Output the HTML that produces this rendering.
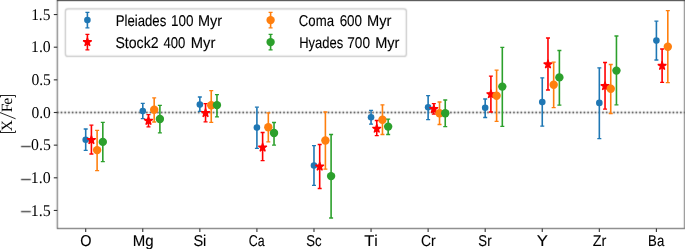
<!DOCTYPE html>
<html><head><meta charset="utf-8"><style>
html,body{margin:0;padding:0;background:#fff;}
body{width:685px;height:249px;overflow:hidden;}
svg{display:block;will-change:transform;}
text{fill:#000;text-rendering:geometricPrecision;}
.tx .xt,.tx .lg{stroke:#000;stroke-width:0.12px;}
.yt{font-family:"Liberation Serif",serif;font-size:16.4px;}
.yl{font-family:"Liberation Serif",serif;font-size:15.7px;}
.xt{font-family:"Liberation Sans",sans-serif;font-size:15.7px;}
.lg{font-family:"Liberation Sans",sans-serif;font-size:15.7px;}
</style></head><body>
<svg width="685" height="249" viewBox="0 0 685 249">
<defs><filter id="bl" color-interpolation-filters="sRGB" x="0" y="0" width="685" height="249" filterUnits="userSpaceOnUse"><feConvolveMatrix order="3" kernelMatrix="0.0277 0.1110 0.0277 0.1110 0.4452 0.1110 0.0277 0.1110 0.0277" edgeMode="duplicate"/></filter></defs>
<rect width="685" height="249" fill="#fff"/>
<g filter="url(#bl)">
<path d="M57.3 112.5H684.4" stroke="#000" stroke-width="1.35" stroke-dasharray="1.5 2.2086" stroke-dashoffset="-3.45"/>
</g>
<g>
<g fill="#1f77b4">
<path d="M85.70 129.00V150.40" stroke="#1f77b4" stroke-width="1.6"/>
<path d="M83.70 129.00h4.0M83.70 150.40h4.0" stroke="#1f77b4" stroke-width="1.3"/>
<circle cx="85.70" cy="139.80" r="3.3"/>
</g>
<g fill="#1f77b4">
<path d="M142.77 103.40V118.70" stroke="#1f77b4" stroke-width="1.6"/>
<path d="M140.77 103.40h4.0M140.77 118.70h4.0" stroke="#1f77b4" stroke-width="1.3"/>
<circle cx="142.77" cy="111.10" r="3.3"/>
</g>
<g fill="#1f77b4">
<path d="M199.84 97.00V111.40" stroke="#1f77b4" stroke-width="1.6"/>
<path d="M197.84 97.00h4.0M197.84 111.40h4.0" stroke="#1f77b4" stroke-width="1.3"/>
<circle cx="199.84" cy="104.60" r="3.3"/>
</g>
<g fill="#1f77b4">
<path d="M256.91 107.20V148.30" stroke="#1f77b4" stroke-width="1.6"/>
<path d="M254.91 107.20h4.0M254.91 148.30h4.0" stroke="#1f77b4" stroke-width="1.3"/>
<circle cx="256.91" cy="127.60" r="3.3"/>
</g>
<g fill="#1f77b4">
<path d="M313.98 145.70V185.40" stroke="#1f77b4" stroke-width="1.6"/>
<path d="M311.98 145.70h4.0M311.98 185.40h4.0" stroke="#1f77b4" stroke-width="1.3"/>
<circle cx="313.98" cy="165.50" r="3.3"/>
</g>
<g fill="#1f77b4">
<path d="M371.05 110.40V124.20" stroke="#1f77b4" stroke-width="1.6"/>
<path d="M369.05 110.40h4.0M369.05 124.20h4.0" stroke="#1f77b4" stroke-width="1.3"/>
<circle cx="371.05" cy="117.30" r="3.3"/>
</g>
<g fill="#1f77b4">
<path d="M428.12 95.60V119.70" stroke="#1f77b4" stroke-width="1.6"/>
<path d="M426.12 95.60h4.0M426.12 119.70h4.0" stroke="#1f77b4" stroke-width="1.3"/>
<circle cx="428.12" cy="107.30" r="3.3"/>
</g>
<g fill="#1f77b4">
<path d="M485.19 99.00V117.50" stroke="#1f77b4" stroke-width="1.6"/>
<path d="M483.19 99.00h4.0M483.19 117.50h4.0" stroke="#1f77b4" stroke-width="1.3"/>
<circle cx="485.19" cy="107.70" r="3.3"/>
</g>
<g fill="#1f77b4">
<path d="M542.26 77.80V126.20" stroke="#1f77b4" stroke-width="1.6"/>
<path d="M540.26 77.80h4.0M540.26 126.20h4.0" stroke="#1f77b4" stroke-width="1.3"/>
<circle cx="542.26" cy="102.10" r="3.3"/>
</g>
<g fill="#1f77b4">
<path d="M599.33 67.80V138.60" stroke="#1f77b4" stroke-width="1.6"/>
<path d="M597.33 67.80h4.0M597.33 138.60h4.0" stroke="#1f77b4" stroke-width="1.3"/>
<circle cx="599.33" cy="102.90" r="3.3"/>
</g>
<g fill="#1f77b4">
<path d="M656.40 21.10V60.00" stroke="#1f77b4" stroke-width="1.6"/>
<path d="M654.40 21.10h4.0M654.40 60.00h4.0" stroke="#1f77b4" stroke-width="1.3"/>
<circle cx="656.40" cy="40.60" r="3.3"/>
</g>
<g fill="#ff0000">
<path d="M91.41 125.20V154.00" stroke="#ff0000" stroke-width="1.6"/>
<path d="M89.41 125.20h4.0M89.41 154.00h4.0" stroke="#ff0000" stroke-width="1.3"/>
<polygon points="91.41,135.50 92.42,138.61 95.69,138.61 93.04,140.53 94.05,143.64 91.41,141.72 88.76,143.64 89.77,140.53 87.13,138.61 90.40,138.61" stroke="#ff0000" stroke-width="1.2" stroke-linejoin="bevel"/>
</g>
<g fill="#ff0000">
<path d="M148.48 114.70V126.90" stroke="#ff0000" stroke-width="1.6"/>
<path d="M146.48 114.70h4.0M146.48 126.90h4.0" stroke="#ff0000" stroke-width="1.3"/>
<polygon points="148.48,116.30 149.49,119.41 152.76,119.41 150.11,121.33 151.12,124.44 148.48,122.52 145.83,124.44 146.84,121.33 144.20,119.41 147.47,119.41" stroke="#ff0000" stroke-width="1.2" stroke-linejoin="bevel"/>
</g>
<g fill="#ff0000">
<path d="M205.55 103.70V121.80" stroke="#ff0000" stroke-width="1.6"/>
<path d="M203.55 103.70h4.0M203.55 121.80h4.0" stroke="#ff0000" stroke-width="1.3"/>
<polygon points="205.55,108.50 206.56,111.61 209.83,111.61 207.18,113.53 208.19,116.64 205.55,114.72 202.90,116.64 203.91,113.53 201.27,111.61 204.54,111.61" stroke="#ff0000" stroke-width="1.2" stroke-linejoin="bevel"/>
</g>
<g fill="#ff0000">
<path d="M262.62 132.50V160.70" stroke="#ff0000" stroke-width="1.6"/>
<path d="M260.62 132.50h4.0M260.62 160.70h4.0" stroke="#ff0000" stroke-width="1.3"/>
<polygon points="262.62,143.00 263.63,146.11 266.90,146.11 264.25,148.03 265.26,151.14 262.62,149.22 259.97,151.14 260.98,148.03 258.34,146.11 261.61,146.11" stroke="#ff0000" stroke-width="1.2" stroke-linejoin="bevel"/>
</g>
<g fill="#ff0000">
<path d="M319.69 144.50V188.50" stroke="#ff0000" stroke-width="1.6"/>
<path d="M317.69 144.50h4.0M317.69 188.50h4.0" stroke="#ff0000" stroke-width="1.3"/>
<polygon points="319.69,162.00 320.70,165.11 323.97,165.11 321.32,167.03 322.33,170.14 319.69,168.22 317.04,170.14 318.05,167.03 315.41,165.11 318.68,165.11" stroke="#ff0000" stroke-width="1.2" stroke-linejoin="bevel"/>
</g>
<g fill="#ff0000">
<path d="M376.76 120.50V135.70" stroke="#ff0000" stroke-width="1.6"/>
<path d="M374.76 120.50h4.0M374.76 135.70h4.0" stroke="#ff0000" stroke-width="1.3"/>
<polygon points="376.76,124.20 377.77,127.31 381.04,127.31 378.39,129.23 379.40,132.34 376.76,130.42 374.11,132.34 375.12,129.23 372.48,127.31 375.75,127.31" stroke="#ff0000" stroke-width="1.2" stroke-linejoin="bevel"/>
</g>
<g fill="#ff0000">
<path d="M433.83 103.70V114.10" stroke="#ff0000" stroke-width="1.6"/>
<path d="M431.83 103.70h4.0M431.83 114.10h4.0" stroke="#ff0000" stroke-width="1.3"/>
<polygon points="433.83,104.50 434.84,107.61 438.11,107.61 435.46,109.53 436.47,112.64 433.83,110.72 431.18,112.64 432.19,109.53 429.55,107.61 432.82,107.61" stroke="#ff0000" stroke-width="1.2" stroke-linejoin="bevel"/>
</g>
<g fill="#ff0000">
<path d="M490.90 76.10V112.00" stroke="#ff0000" stroke-width="1.6"/>
<path d="M488.90 76.10h4.0M488.90 112.00h4.0" stroke="#ff0000" stroke-width="1.3"/>
<polygon points="490.90,89.70 491.91,92.81 495.18,92.81 492.53,94.73 493.54,97.84 490.90,95.92 488.25,97.84 489.26,94.73 486.62,92.81 489.89,92.81" stroke="#ff0000" stroke-width="1.2" stroke-linejoin="bevel"/>
</g>
<g fill="#ff0000">
<path d="M547.97 38.00V90.00" stroke="#ff0000" stroke-width="1.6"/>
<path d="M545.97 38.00h4.0M545.97 90.00h4.0" stroke="#ff0000" stroke-width="1.3"/>
<polygon points="547.97,59.80 548.98,62.91 552.25,62.91 549.60,64.83 550.61,67.94 547.97,66.02 545.32,67.94 546.33,64.83 543.69,62.91 546.96,62.91" stroke="#ff0000" stroke-width="1.2" stroke-linejoin="bevel"/>
</g>
<g fill="#ff0000">
<path d="M605.04 62.50V109.10" stroke="#ff0000" stroke-width="1.6"/>
<path d="M603.04 62.50h4.0M603.04 109.10h4.0" stroke="#ff0000" stroke-width="1.3"/>
<polygon points="605.04,81.60 606.05,84.71 609.32,84.71 606.67,86.63 607.68,89.74 605.04,87.82 602.39,89.74 603.40,86.63 600.76,84.71 604.03,84.71" stroke="#ff0000" stroke-width="1.2" stroke-linejoin="bevel"/>
</g>
<g fill="#ff0000">
<path d="M662.11 49.00V82.40" stroke="#ff0000" stroke-width="1.6"/>
<path d="M660.11 49.00h4.0M660.11 82.40h4.0" stroke="#ff0000" stroke-width="1.3"/>
<polygon points="662.11,61.30 663.12,64.41 666.39,64.41 663.74,66.33 664.75,69.44 662.11,67.52 659.46,69.44 660.47,66.33 657.83,64.41 661.10,64.41" stroke="#ff0000" stroke-width="1.2" stroke-linejoin="bevel"/>
</g>
<g fill="#ff7f0e">
<path d="M97.11 130.40V170.70" stroke="#ff7f0e" stroke-width="1.6"/>
<path d="M95.11 130.40h4.0M95.11 170.70h4.0" stroke="#ff7f0e" stroke-width="1.3"/>
<circle cx="97.11" cy="150.10" r="4.2"/>
</g>
<g fill="#ff7f0e">
<path d="M154.18 97.90V122.00" stroke="#ff7f0e" stroke-width="1.6"/>
<path d="M152.18 97.90h4.0M152.18 122.00h4.0" stroke="#ff7f0e" stroke-width="1.3"/>
<circle cx="154.18" cy="109.80" r="4.2"/>
</g>
<g fill="#ff7f0e">
<path d="M211.25 90.60V122.30" stroke="#ff7f0e" stroke-width="1.6"/>
<path d="M209.25 90.60h4.0M209.25 122.30h4.0" stroke="#ff7f0e" stroke-width="1.3"/>
<circle cx="211.25" cy="105.30" r="4.2"/>
</g>
<g fill="#ff7f0e">
<path d="M268.32 112.90V141.90" stroke="#ff7f0e" stroke-width="1.6"/>
<path d="M266.32 112.90h4.0M266.32 141.90h4.0" stroke="#ff7f0e" stroke-width="1.3"/>
<circle cx="268.32" cy="127.30" r="4.2"/>
</g>
<g fill="#ff7f0e">
<path d="M325.39 112.00V169.20" stroke="#ff7f0e" stroke-width="1.6"/>
<path d="M323.39 112.00h4.0M323.39 169.20h4.0" stroke="#ff7f0e" stroke-width="1.3"/>
<circle cx="325.39" cy="140.50" r="4.2"/>
</g>
<g fill="#ff7f0e">
<path d="M382.46 104.80V134.50" stroke="#ff7f0e" stroke-width="1.6"/>
<path d="M380.46 104.80h4.0M380.46 134.50h4.0" stroke="#ff7f0e" stroke-width="1.3"/>
<circle cx="382.46" cy="119.70" r="4.2"/>
</g>
<g fill="#ff7f0e">
<path d="M439.53 102.00V124.50" stroke="#ff7f0e" stroke-width="1.6"/>
<path d="M437.53 102.00h4.0M437.53 124.50h4.0" stroke="#ff7f0e" stroke-width="1.3"/>
<circle cx="439.53" cy="113.30" r="4.2"/>
</g>
<g fill="#ff7f0e">
<path d="M496.60 70.10V121.40" stroke="#ff7f0e" stroke-width="1.6"/>
<path d="M494.60 70.10h4.0M494.60 121.40h4.0" stroke="#ff7f0e" stroke-width="1.3"/>
<circle cx="496.60" cy="95.70" r="4.2"/>
</g>
<g fill="#ff7f0e">
<path d="M553.67 62.20V107.70" stroke="#ff7f0e" stroke-width="1.6"/>
<path d="M551.67 62.20h4.0M551.67 107.70h4.0" stroke="#ff7f0e" stroke-width="1.3"/>
<circle cx="553.67" cy="84.80" r="4.2"/>
</g>
<g fill="#ff7f0e">
<path d="M610.74 64.50V113.50" stroke="#ff7f0e" stroke-width="1.6"/>
<path d="M608.74 64.50h4.0M608.74 113.50h4.0" stroke="#ff7f0e" stroke-width="1.3"/>
<circle cx="610.74" cy="88.70" r="4.2"/>
</g>
<g fill="#ff7f0e">
<path d="M667.81 10.60V82.70" stroke="#ff7f0e" stroke-width="1.6"/>
<path d="M665.81 10.60h4.0M665.81 82.70h4.0" stroke="#ff7f0e" stroke-width="1.3"/>
<circle cx="667.81" cy="46.80" r="4.2"/>
</g>
<g fill="#2ca02c">
<path d="M102.82 122.40V161.70" stroke="#2ca02c" stroke-width="1.6"/>
<path d="M100.82 122.40h4.0M100.82 161.70h4.0" stroke="#2ca02c" stroke-width="1.3"/>
<circle cx="102.82" cy="141.90" r="4.2"/>
</g>
<g fill="#2ca02c">
<path d="M159.89 105.40V132.90" stroke="#2ca02c" stroke-width="1.6"/>
<path d="M157.89 105.40h4.0M157.89 132.90h4.0" stroke="#2ca02c" stroke-width="1.3"/>
<circle cx="159.89" cy="119.00" r="4.2"/>
</g>
<g fill="#2ca02c">
<path d="M216.96 94.60V116.90" stroke="#2ca02c" stroke-width="1.6"/>
<path d="M214.96 94.60h4.0M214.96 116.90h4.0" stroke="#2ca02c" stroke-width="1.3"/>
<circle cx="216.96" cy="105.10" r="4.2"/>
</g>
<g fill="#2ca02c">
<path d="M274.03 122.50V145.10" stroke="#2ca02c" stroke-width="1.6"/>
<path d="M272.03 122.50h4.0M272.03 145.10h4.0" stroke="#2ca02c" stroke-width="1.3"/>
<circle cx="274.03" cy="133.00" r="4.2"/>
</g>
<g fill="#2ca02c">
<path d="M331.10 134.50V218.00" stroke="#2ca02c" stroke-width="1.6"/>
<path d="M329.10 134.50h4.0M329.10 218.00h4.0" stroke="#2ca02c" stroke-width="1.3"/>
<circle cx="331.10" cy="176.10" r="4.2"/>
</g>
<g fill="#2ca02c">
<path d="M388.17 119.10V134.50" stroke="#2ca02c" stroke-width="1.6"/>
<path d="M386.17 119.10h4.0M386.17 134.50h4.0" stroke="#2ca02c" stroke-width="1.3"/>
<circle cx="388.17" cy="126.60" r="4.2"/>
</g>
<g fill="#2ca02c">
<path d="M445.24 100.00V126.60" stroke="#2ca02c" stroke-width="1.6"/>
<path d="M443.24 100.00h4.0M443.24 126.60h4.0" stroke="#2ca02c" stroke-width="1.3"/>
<circle cx="445.24" cy="113.30" r="4.2"/>
</g>
<g fill="#2ca02c">
<path d="M502.31 47.40V126.30" stroke="#2ca02c" stroke-width="1.6"/>
<path d="M500.31 47.40h4.0M500.31 126.30h4.0" stroke="#2ca02c" stroke-width="1.3"/>
<circle cx="502.31" cy="86.60" r="4.2"/>
</g>
<g fill="#2ca02c">
<path d="M559.38 50.50V105.10" stroke="#2ca02c" stroke-width="1.6"/>
<path d="M557.38 50.50h4.0M557.38 105.10h4.0" stroke="#2ca02c" stroke-width="1.3"/>
<circle cx="559.38" cy="77.40" r="4.2"/>
</g>
<g fill="#2ca02c">
<path d="M616.45 36.00V104.80" stroke="#2ca02c" stroke-width="1.6"/>
<path d="M614.45 36.00h4.0M614.45 104.80h4.0" stroke="#2ca02c" stroke-width="1.3"/>
<circle cx="616.45" cy="70.60" r="4.2"/>
</g>
</g>
<g filter="url(#bl)">
<path d="M57.3 0V228.5M57.0 228.5H684.6999999999999" fill="none" stroke="#000" stroke-width="0.66"/>
<path d="M684.4 228.5V0" fill="none" stroke="#000" stroke-width="0.5"/>
<path d="M57.0 0.35H684.6999999999999" stroke="#000" stroke-width="0.9"/>
<path d="M21.05 146.55H30.85" stroke="#000" stroke-width="1.0"/>
<path d="M21.05 179.55H30.85" stroke="#000" stroke-width="1.0"/>
<path d="M21.05 211.65H30.85" stroke="#000" stroke-width="1.0"/>
</g>
<path d="M53.80 14.55H57.3" stroke="#333" stroke-width="1.1"/>
<path d="M53.80 47.20H57.3" stroke="#333" stroke-width="1.1"/>
<path d="M53.80 79.85H57.3" stroke="#333" stroke-width="1.1"/>
<path d="M53.80 112.50H57.3" stroke="#333" stroke-width="1.1"/>
<path d="M53.80 145.15H57.3" stroke="#333" stroke-width="1.1"/>
<path d="M53.80 177.80H57.3" stroke="#333" stroke-width="1.1"/>
<path d="M53.80 210.45H57.3" stroke="#333" stroke-width="1.1"/>
<path d="M85.70 228.5V231.90" stroke="#333" stroke-width="1.1"/>
<path d="M142.77 228.5V231.90" stroke="#333" stroke-width="1.1"/>
<path d="M199.84 228.5V231.90" stroke="#333" stroke-width="1.1"/>
<path d="M256.91 228.5V231.90" stroke="#333" stroke-width="1.1"/>
<path d="M313.98 228.5V231.90" stroke="#333" stroke-width="1.1"/>
<path d="M371.05 228.5V231.90" stroke="#333" stroke-width="1.1"/>
<path d="M428.12 228.5V231.90" stroke="#333" stroke-width="1.1"/>
<path d="M485.19 228.5V231.90" stroke="#333" stroke-width="1.1"/>
<path d="M542.26 228.5V231.90" stroke="#333" stroke-width="1.1"/>
<path d="M599.33 228.5V231.90" stroke="#333" stroke-width="1.1"/>
<path d="M656.40 228.5V231.90" stroke="#333" stroke-width="1.1"/>
<g class="tx">
<text transform="translate(50.46,19.70) scale(0.9419,1)" text-anchor="end" class="yt">1.5</text>
<text transform="translate(50.71,52.35) scale(0.9616,1)" text-anchor="end" class="yt">1.0</text>
<text transform="translate(50.95,85.00) scale(0.9544,1)" text-anchor="end" class="yt">0.5</text>
<text transform="translate(50.82,117.65) scale(0.9472,1)" text-anchor="end" class="yt">0.0</text>
<text transform="translate(50.83,150.30) scale(0.9630,1)" text-anchor="end" class="yt">0.5</text>
<text transform="translate(50.73,182.95) scale(0.9719,1)" text-anchor="end" class="yt">1.0</text>
<text transform="translate(50.84,215.60) scale(0.9764,1)" text-anchor="end" class="yt">1.5</text>
<text transform="translate(85.89,245.70) scale(0.9196,1)" text-anchor="middle" class="xt">O</text>
<text transform="translate(143.18,245.70) scale(0.9566,1)" text-anchor="middle" class="xt">Mg</text>
<text transform="translate(199.86,245.70) scale(0.9303,1)" text-anchor="middle" class="xt">Si</text>
<text transform="translate(256.71,245.70) scale(0.7886,1)" text-anchor="middle" class="xt">Ca</text>
<text transform="translate(313.80,245.70) scale(0.8381,1)" text-anchor="middle" class="xt">Sc</text>
<text transform="translate(364.33,245.70) scale(1.0501,1)" text-anchor="start" class="xt">T</text>
<text transform="translate(374.20,245.70) scale(1.0000,1)" text-anchor="start" class="xt">i</text>
<text transform="translate(428.35,245.70) scale(0.8876,1)" text-anchor="middle" class="xt">Cr</text>
<text transform="translate(484.94,245.70) scale(0.8382,1)" text-anchor="middle" class="xt">Sr</text>
<text transform="translate(542.30,245.70) scale(1.0650,1)" text-anchor="middle" class="xt">Y</text>
<text transform="translate(599.51,245.70) scale(0.9166,1)" text-anchor="middle" class="xt">Zr</text>
<text transform="translate(656.16,245.70) scale(0.8379,1)" text-anchor="middle" class="xt">Ba</text>
<path d="M-1 95.5H15.5V97.4M0.5 95.5V97.4" fill="none" stroke="#222" stroke-width="1"/>
<path d="M-1 132.5H15.5V130.6M0.5 132.5V130.6" fill="none" stroke="#222" stroke-width="1"/>
<path d="M15.6 118.8L-0.4 112.4" fill="none" stroke="#000" stroke-width="0.85"/>
<text transform="translate(11.80,101.30) rotate(-90)" text-anchor="middle" class="yl">e</text>
<text transform="translate(11.80,107.90) rotate(-90)" text-anchor="middle" class="yl">F</text>
<text transform="translate(11.80,125.65) rotate(-90)" text-anchor="middle" class="yl">X</text>
</g>
<rect x="65.4" y="8.8" width="341" height="47.6" rx="2.5" ry="2.5" fill="#fff" fill-opacity="0.8"/>
<g filter="url(#bl)"><rect x="65.4" y="8.9" width="341" height="47.5" rx="2.5" ry="2.5" fill="none" stroke="#c4c4c4" stroke-width="1.2"/></g>
<g fill="#1f77b4">
<path d="M87.40 12.30V27.90" stroke="#1f77b4" stroke-width="1.6"/>
<path d="M85.40 12.30h4.0M85.40 27.90h4.0" stroke="#1f77b4" stroke-width="1.3"/>
<circle cx="87.40" cy="20.10" r="3.3"/>
</g>
<g fill="#ff0000">
<path d="M87.40 34.30V49.90" stroke="#ff0000" stroke-width="1.6"/>
<path d="M85.40 34.30h4.0M85.40 49.90h4.0" stroke="#ff0000" stroke-width="1.3"/>
<polygon points="87.40,37.60 88.41,40.71 91.68,40.71 89.03,42.63 90.05,45.74 87.40,43.82 84.75,45.74 85.77,42.63 83.12,40.71 86.39,40.71" stroke="#ff0000" stroke-width="1.2" stroke-linejoin="bevel"/>
</g>
<g fill="#ff7f0e">
<path d="M270.60 12.30V27.90" stroke="#ff7f0e" stroke-width="1.6"/>
<path d="M268.60 12.30h4.0M268.60 27.90h4.0" stroke="#ff7f0e" stroke-width="1.3"/>
<circle cx="270.60" cy="20.10" r="4.2"/>
</g>
<g fill="#2ca02c">
<path d="M270.60 34.30V49.90" stroke="#2ca02c" stroke-width="1.6"/>
<path d="M268.60 34.30h4.0M268.60 49.90h4.0" stroke="#2ca02c" stroke-width="1.3"/>
<circle cx="270.60" cy="42.10" r="4.2"/>
</g>
<g class="tx">
<text transform="translate(115.74,25.80) scale(0.8386,1)" text-anchor="start" class="lg">Pleiades</text>
<text transform="translate(170.93,25.80) scale(0.8596,1)" text-anchor="start" class="lg">100</text>
<text transform="translate(197.95,25.80) scale(0.9241,1)" text-anchor="start" class="lg">Myr</text>
<text transform="translate(115.46,48.10) scale(0.8983,1)" text-anchor="start" class="lg">Stock2</text>
<text transform="translate(163.54,48.10) scale(0.8352,1)" text-anchor="start" class="lg">400</text>
<text transform="translate(190.76,48.10) scale(0.9400,1)" text-anchor="start" class="lg">Myr</text>
<text transform="translate(298.81,25.80) scale(0.8401,1)" text-anchor="start" class="lg">Coma</text>
<text transform="translate(339.63,25.80) scale(0.8560,1)" text-anchor="start" class="lg">600</text>
<text transform="translate(366.92,25.80) scale(0.9347,1)" text-anchor="start" class="lg">Myr</text>
<text transform="translate(299.26,48.10) scale(0.8266,1)" text-anchor="start" class="lg">Hyades</text>
<text transform="translate(347.23,48.10) scale(0.8694,1)" text-anchor="start" class="lg">700</text>
<text transform="translate(375.22,48.10) scale(0.9274,1)" text-anchor="start" class="lg">Myr</text>
</g>
</svg>
</body></html>
